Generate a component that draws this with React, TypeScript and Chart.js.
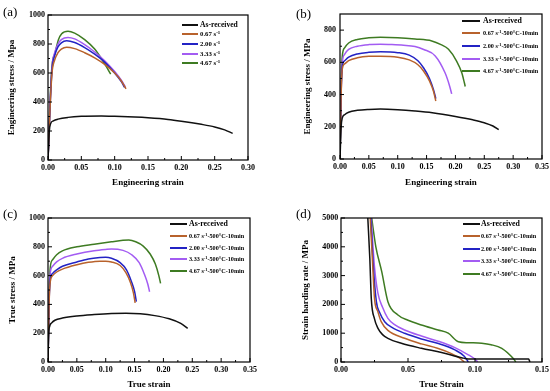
import React, { useEffect, useRef } from "react";
import { Chart, registerables } from "chart.js";
Chart.register(...registerables);

const SERIF = "'Liberation Serif', 'Times New Roman', serif";
const COLORS = ["#111111", "#B8622C", "#2323C4", "#A35CF2", "#3E7B22"];

// ---------- Panel (a): engineering stress-strain ----------
const aLegend = ["As-received", "0.67 s⁻¹", "2.00 s⁻¹", "3.33 s⁻¹", "4.67 s⁻¹"];
const aX0 = [0, 0.002, 0.004, 0.008, 0.015, 0.03, 0.05, 0.08, 0.1, 0.13, 0.15, 0.18, 0.2, 0.23, 0.25, 0.265, 0.277];
const aY0 = [0, 200, 252, 270, 282, 294, 301, 303, 301, 296, 291, 280, 268, 246, 228, 208, 184];
const aX1 = [0, 0.003, 0.006, 0.01, 0.015, 0.02, 0.028, 0.04, 0.055, 0.07, 0.085, 0.1, 0.11, 0.117];
const aY1 = [0, 350, 600, 690, 740, 765, 778, 768, 740, 705, 660, 600, 545, 490];
const aX2 = [0, 0.003, 0.006, 0.01, 0.015, 0.02, 0.028, 0.04, 0.055, 0.07, 0.085, 0.1, 0.11, 0.115];
const aY2 = [0, 360, 620, 720, 780, 808, 822, 810, 775, 730, 675, 600, 540, 500];
const aX3 = [0, 0.003, 0.006, 0.01, 0.015, 0.02, 0.03, 0.04, 0.055, 0.07, 0.085, 0.1, 0.11, 0.116];
const aY3 = [0, 370, 640, 740, 800, 830, 845, 835, 795, 745, 685, 610, 550, 505];
const aX4 = [0, 0.003, 0.006, 0.0105, 0.0155, 0.0205, 0.03, 0.04, 0.055, 0.07, 0.08, 0.088, 0.094];
const aY4 = [0, 400, 650, 736, 828, 870, 888, 875, 830, 765, 700, 640, 592];

// ---------- Panel (b): engineering stress-strain after 500°C ----------
const bLegend = ["As-received", "0.67 s⁻¹-500°C-10min", "2.00 s⁻¹-500°C-10min", "3.33 s⁻¹-500°C-10min", "4.67 s⁻¹-500°C-10min"];
const bX0 = [0, 0.002, 0.004, 0.008, 0.015, 0.03, 0.05, 0.07, 0.1, 0.13, 0.16, 0.2, 0.23, 0.25, 0.265, 0.275];
const bY0 = [0, 200, 255, 275, 290, 302, 308, 310, 306, 298, 287, 264, 243, 225, 205, 182];
const bX1 = [0, 0.002, 0.004, 0.008, 0.015, 0.03, 0.05, 0.07, 0.1, 0.12, 0.135, 0.145, 0.155, 0.162, 0.166];
const bY1 = [0, 400, 560, 590, 610, 628, 637, 638, 632, 615, 585, 545, 485, 420, 360];
const bX2 = [0, 0.002, 0.004, 0.008, 0.015, 0.03, 0.05, 0.07, 0.1, 0.12, 0.135, 0.145, 0.155, 0.162, 0.166];
const bY2 = [0, 410, 575, 610, 632, 652, 662, 665, 660, 645, 610, 565, 500, 430, 375];
const bX3 = [0, 0.002, 0.004, 0.008, 0.015, 0.03, 0.05, 0.07, 0.09, 0.11, 0.13, 0.145, 0.165, 0.182, 0.19, 0.1935];
const bY3 = [0, 430, 600, 650, 680, 700, 710, 712, 710, 706, 698, 680, 640, 535, 452, 404];
const bX4 = [0, 0.002, 0.004, 0.008, 0.015, 0.03, 0.05, 0.07, 0.1, 0.13, 0.159, 0.175, 0.188, 0.202, 0.211, 0.2155, 0.217];
const bY4 = [0, 450, 640, 690, 720, 742, 752, 755, 753, 745, 733, 710, 681, 608, 535, 473, 450];

// ---------- Panel (c): true stress-strain ----------
const cLegend = bLegend;
const cX0 = [0, 0.001, 0.003, 0.006, 0.012, 0.025, 0.05, 0.08, 0.11, 0.135, 0.16, 0.185, 0.21, 0.23, 0.242];
const cY0 = [0, 180, 250, 270, 290, 305, 320, 330, 337, 339, 335, 322, 300, 268, 234];
const cX1 = [0, 0.002, 0.004, 0.008, 0.015, 0.025, 0.05, 0.07, 0.09, 0.1, 0.11, 0.125, 0.135, 0.143, 0.148, 0.151];
const cY1 = [0, 420, 560, 600, 625, 645, 675, 692, 700, 700, 695, 670, 620, 550, 480, 410];
const cX2 = [0, 0.002, 0.004, 0.008, 0.015, 0.025, 0.05, 0.07, 0.09, 0.1, 0.11, 0.125, 0.136, 0.144, 0.15, 0.153];
const cY2 = [0, 430, 575, 615, 640, 665, 695, 715, 725, 727, 720, 690, 640, 565, 490, 420];
const cX3 = [0, 0.002, 0.004, 0.008, 0.015, 0.025, 0.05, 0.08, 0.1, 0.11, 0.13, 0.145, 0.158, 0.167, 0.173, 0.176];
const cY3 = [0, 450, 620, 665, 695, 720, 750, 773, 782, 785, 775, 745, 690, 610, 540, 488];
const cX4 = [0, 0.002, 0.004, 0.008, 0.015, 0.025, 0.05, 0.08, 0.11, 0.13, 0.14, 0.152, 0.165, 0.177, 0.186, 0.192, 0.195];
const cY4 = [0, 470, 660, 710, 745, 772, 800, 818, 835, 845, 847, 835, 805, 750, 680, 600, 546];

// ---------- Panel (d): strain hardening rate ----------
const dLegend = bLegend;
const dX0 = [0.02, 0.0215, 0.0226, 0.025, 0.0276, 0.031, 0.035, 0.045, 0.06, 0.075, 0.09, 0.095, 0.12, 0.14, 0.141];
const dY0 = [5000, 3600, 2210, 1500, 1170, 950, 823, 650, 475, 330, 150, 105, 100, 100, 0];
const dX1 = [0.0218, 0.0235, 0.025, 0.0275, 0.03, 0.035, 0.0475, 0.06, 0.072, 0.082, 0.088, 0.092];
const dY1 = [5000, 3500, 2210, 1750, 1400, 1100, 823, 630, 475, 300, 150, 0];
const dX2 = [0.0222, 0.024, 0.0264, 0.029, 0.0326, 0.038, 0.0475, 0.06, 0.072, 0.085, 0.092, 0.095];
const dY2 = [5000, 3400, 2094, 1700, 1400, 1200, 996, 800, 650, 420, 200, 0];
const dX3 = [0.0225, 0.025, 0.0275, 0.031, 0.035, 0.04, 0.0475, 0.06, 0.072, 0.085, 0.095, 0.1, 0.102];
const dY3 = [5000, 3300, 2400, 1900, 1517, 1300, 1111, 900, 729, 500, 250, 100, 0];
const dX4 = [0.0229, 0.026, 0.0304, 0.035, 0.0425, 0.05, 0.06, 0.0724, 0.08, 0.0876, 0.095, 0.105, 0.112, 0.12, 0.1286, 0.1305];
const dY4 = [5000, 4000, 3135, 2094, 1632, 1450, 1285, 1111, 1000, 705, 670, 650, 600, 475, 120, 0];

// tick values
const xTicksA = [0, 0.05, 0.1, 0.15, 0.2, 0.25, 0.3];
const yTicksA = [0, 200, 400, 600, 800, 1000];
const xTicksB = [0, 0.05, 0.1, 0.15, 0.2, 0.25, 0.3, 0.35];
const yTicksB = [0, 200, 400, 600, 800];
const yTicksC = [0, 200, 400, 600, 800, 1000];
const xTicksD = [0, 0.05, 0.1, 0.15];
const yTicksD = [0, 1000, 2000, 3000, 4000, 5000];

type Spec = {
  left: number; top: number; w: number; h: number;
  pl: number; pr: number; pt: number; pb: number;
  xMin: number; xMax: number; xTicks: number[];
  yMin: number; yMax: number; yTicks: number[];
  xTitle: string; yTitle: string; xTitlePad: number; yTitlePad: number;
  xTickPad: number; yTickPad: number;
  series: { xs: number[]; ys: number[] }[];
  legend: string[];
  lg: { lx: number; lw: number; tx: number; y0: number; dy: number; f0: number; f: number };
  tag: string; tagX: number; tagY: number;
};

const specs: Spec[] = [
  {
    left: 0, top: 0, w: 275, h: 195, pl: 48, pr: 248, pt: 15, pb: 160,
    xMin: 0, xMax: 0.3, xTicks: xTicksA, yMin: 0, yMax: 1000, yTicks: yTicksA,
    xTitle: "Engineering strain", yTitle: "Engineering stress / Mpa", xTitlePad: 6.9, yTitlePad: 6.6,
    xTickPad: 3, yTickPad: 3,
    series: [{ xs: aX0, ys: aY0 }, { xs: aX1, ys: aY1 }, { xs: aX2, ys: aY2 }, { xs: aX3, ys: aY3 }, { xs: aX4, ys: aY4 }],
    legend: aLegend,
    lg: { lx: 182, lw: 16, tx: 200, y0: 24.5, dy: 9.7, f0: 7.6, f: 6.8 },
    tag: "(a)", tagX: 3, tagY: 5,
  },
  {
    left: 275, top: 0, w: 275, h: 195, pl: 65, pr: 267, pt: 14, pb: 159,
    xMin: 0, xMax: 0.35, xTicks: xTicksB, yMin: 0, yMax: 900, yTicks: yTicksB,
    xTitle: "Engineering strain", yTitle: "Engineering stress / MPa", xTitlePad: 6.9, yTitlePad: 27.6,
    xTickPad: 3.5, yTickPad: 4,
    series: [{ xs: bX0, ys: bY0 }, { xs: bX1, ys: bY1 }, { xs: bX2, ys: bY2 }, { xs: bX3, ys: bY3 }, { xs: bX4, ys: bY4 }],
    legend: bLegend,
    lg: { lx: 462, lw: 18, tx: 483, y0: 20.7, dy: 12.6, f0: 7.8, f: 6.2 },
    tag: "(b)", tagX: 296, tagY: 7,
  },
  {
    left: 0, top: 195, w: 275, h: 196, pl: 48, pr: 250, pt: 23, pb: 167,
    xMin: 0, xMax: 0.35, xTicks: xTicksB, yMin: 0, yMax: 1000, yTicks: yTicksC,
    xTitle: "True strain", yTitle: "True stress / MPa", xTitlePad: 0.6, yTitlePad: 7.6,
    xTickPad: 3, yTickPad: 3,
    series: [{ xs: cX0, ys: cY0 }, { xs: cX1, ys: cY1 }, { xs: cX2, ys: cY2 }, { xs: cX3, ys: cY3 }, { xs: cX4, ys: cY4 }],
    legend: cLegend,
    lg: { lx: 170, lw: 17, tx: 189, y0: 224.3, dy: 11.7, f0: 7.8, f: 6.2 },
    tag: "(c)", tagX: 3, tagY: 207,
  },
  {
    left: 275, top: 195, w: 275, h: 196, pl: 66, pr: 267, pt: 23, pb: 167,
    xMin: 0, xMax: 0.15, xTicks: xTicksD, yMin: 0, yMax: 5000, yTicks: yTicksD,
    xTitle: "True Strain", yTitle: "Strain harding rate / MPa", xTitlePad: 0.6, yTitlePad: 25.6,
    xTickPad: 3, yTickPad: 2.7,
    series: [{ xs: dX0, ys: dY0 }, { xs: dX1, ys: dY1 }, { xs: dX2, ys: dY2 }, { xs: dX3, ys: dY3 }, { xs: dX4, ys: dY4 }],
    legend: dLegend,
    lg: { lx: 463, lw: 17, tx: 481, y0: 224, dy: 12.4, f0: 7.8, f: 6.2 },
    tag: "(d)", tagX: 296, tagY: 207,
  },
];

function framePlugin(spec: Spec) {
  return {
    id: "frame",
    afterDraw(chart: any) {
      const { ctx, chartArea } = chart;
      const { left, right, top, bottom } = chartArea;
      const xs = chart.scales.x;
      const ys = chart.scales.y;
      ctx.save();
      ctx.strokeStyle = "#000";
      ctx.lineWidth = 1.2;
      ctx.strokeRect(left, top, right - left, bottom - top);
      ctx.lineWidth = 1;
      ctx.beginPath();
      const xt = spec.xTicks;
      for (let i = 0; i < xt.length; i++) {
        const px = xs.getPixelForValue(xt[i]);
        ctx.moveTo(px, bottom);
        ctx.lineTo(px, bottom - 4);
        if (i < xt.length - 1) {
          const mx = xs.getPixelForValue((xt[i] + xt[i + 1]) / 2);
          ctx.moveTo(mx, bottom);
          ctx.lineTo(mx, bottom - 2);
        }
      }
      const yt = spec.yTicks;
      for (let i = 0; i < yt.length; i++) {
        const py = ys.getPixelForValue(yt[i]);
        ctx.moveTo(left, py);
        ctx.lineTo(left + 4, py);
        const nv = yt[i] + (yt[1] - yt[0]) / 2;
        if (nv < spec.yMax) {
          const my = ys.getPixelForValue(nv);
          ctx.moveTo(left, my);
          ctx.lineTo(left + 2, my);
        }
      }
      ctx.stroke();
      ctx.restore();
    },
  };
}

function Panel({ spec }: { spec: Spec }) {
  const ref = useRef<HTMLCanvasElement>(null);
  useEffect(() => {
    if (!ref.current) return;
    const fontTick = { family: SERIF, size: 8, weight: "bold" as const };
    const fontTitle = { family: SERIF, size: 9, weight: "bold" as const };
    const chart = new Chart(ref.current, {
      type: "line",
      data: {
        datasets: spec.series.map((s, i) => ({
          label: spec.legend[i],
          data: s.xs.map((x, j) => ({ x, y: s.ys[j] })),
          borderColor: COLORS[i],
          borderWidth: 1.5,
          pointRadius: 0,
          fill: false,
          cubicInterpolationMode: "monotone" as const,
        })),
      },
      options: {
        responsive: false,
        animation: false,
        events: [],
        layout: { padding: { left: 0, right: spec.w - spec.pr, top: spec.pt, bottom: 0 } },
        plugins: { legend: { display: false }, tooltip: { enabled: false } },
        scales: {
          x: {
            type: "linear",
            min: spec.xMin,
            max: spec.xMax,
            afterBuildTicks: (s: any) => { s.ticks = spec.xTicks.map((v) => ({ value: v })); },
            afterFit: (s: any) => { s.height = spec.h - spec.pb; s.paddingLeft = 0; s.paddingRight = 0; },
            grid: { display: false, drawTicks: false },
            border: { display: false },
            ticks: {
              padding: spec.xTickPad, color: "#000", font: fontTick, maxRotation: 0, autoSkip: false,
              callback: (v: any) => Number(v).toFixed(2),
            },
            title: { display: true, text: spec.xTitle, color: "#000", font: fontTitle, padding: { top: 0, bottom: spec.xTitlePad } },
          },
          y: {
            type: "linear",
            min: spec.yMin,
            max: spec.yMax,
            afterBuildTicks: (s: any) => { s.ticks = spec.yTicks.map((v) => ({ value: v })); },
            afterFit: (s: any) => { s.width = spec.pl; s.paddingTop = 0; s.paddingBottom = 0; },
            grid: { display: false, drawTicks: false },
            border: { display: false },
            ticks: { padding: spec.yTickPad, color: "#000", font: fontTick, autoSkip: false, callback: (v: any) => String(v) },
            title: { display: true, text: spec.yTitle, color: "#000", font: fontTitle, padding: { top: spec.yTitlePad, bottom: 0 } },
          },
        },
      },
      plugins: [framePlugin(spec)],
    } as any);
    return () => chart.destroy();
  }, [spec]);

  return (
    <canvas
      ref={ref}
      width={spec.w}
      height={spec.h}
      style={{ position: "absolute", left: spec.left, top: spec.top, width: spec.w, height: spec.h }}
    />
  );
}

function LegendText({ text }: { text: string }) {
  const parts = text.split("⁻¹");
  if (parts.length === 1) return <>{text}</>;
  return (
    <>
      {parts[0]}
      <sup style={{ fontSize: "0.7em", lineHeight: 0, verticalAlign: "0.45em" }}>-1</sup>
      {parts[1]}
    </>
  );
}

function Overlay({ spec }: { spec: Spec }) {
  const { lg } = spec;
  return (
    <>
      <div
        style={{
          position: "absolute", left: spec.tagX, top: spec.tagY, fontFamily: SERIF,
          fontSize: 13, lineHeight: "14px", color: "#000", whiteSpace: "nowrap",
        }}
      >
        {spec.tag}
      </div>
      {spec.legend.map((t, i) => {
        const y = lg.y0 + i * lg.dy;
        return (
          <React.Fragment key={i}>
            <div
              style={{
                position: "absolute", left: lg.lx, top: Math.round(y) - 1, width: lg.lw, height: 2,
                background: COLORS[i],
              }}
            />
            <div
              style={{
                position: "absolute", left: lg.tx, top: y - 5, height: 10, lineHeight: "10px",
                fontFamily: SERIF, fontWeight: "bold", fontSize: i === 0 ? lg.f0 : lg.f,
                color: "#000", whiteSpace: "nowrap",
              }}
            >
              <LegendText text={t} />
            </div>
          </React.Fragment>
        );
      })}
    </>
  );
}

export default function App() {
  return (
    <div style={{ position: "fixed", left: 0, top: 0, width: 550, height: 391, background: "#fff", overflow: "hidden" }}>
      {specs.map((s, i) => (
        <Panel key={i} spec={s} />
      ))}
      {specs.map((s, i) => (
        <Overlay key={"o" + i} spec={s} />
      ))}
    </div>
  );
}
